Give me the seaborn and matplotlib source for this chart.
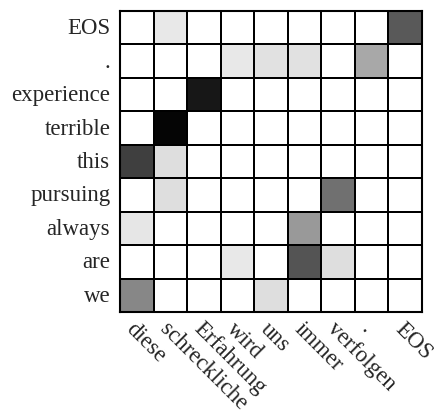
import numpy as np
import pandas as pd
import matplotlib
matplotlib.use("Agg")
import matplotlib.pyplot as plt
import seaborn as sns

# source (German) tokens on x, target (English) tokens on y, top to bottom
src_tokens = ["diese", "schreckliche", "Erfahrung", "wird", "uns",
              "immer", "verfolgen", ".", "EOS"]
tgt_tokens = ["EOS", ".", "experience", "terrible", "this",
              "pursuing", "always", "are", "we"]

# attention weights (0 = white, 1 = black)
row_eos        = [0.00, 0.09, 0.00, 0.00, 0.00, 0.00, 0.00, 0.00, 0.65]
row_dot        = [0.00, 0.00, 0.00, 0.09, 0.12, 0.12, 0.00, 0.34, 0.00]
row_experience = [0.00, 0.00, 0.91, 0.00, 0.00, 0.00, 0.00, 0.00, 0.00]
row_terrible   = [0.00, 0.98, 0.00, 0.00, 0.00, 0.00, 0.00, 0.00, 0.00]
row_this       = [0.75, 0.13, 0.00, 0.00, 0.00, 0.00, 0.00, 0.00, 0.00]
row_pursuing   = [0.00, 0.13, 0.00, 0.00, 0.00, 0.00, 0.56, 0.00, 0.00]
row_always     = [0.10, 0.00, 0.00, 0.00, 0.00, 0.40, 0.00, 0.00, 0.00]
row_are        = [0.00, 0.00, 0.00, 0.09, 0.00, 0.67, 0.13, 0.00, 0.00]
row_we         = [0.47, 0.00, 0.00, 0.00, 0.13, 0.00, 0.00, 0.00, 0.00]

attn = pd.DataFrame(
    [row_eos, row_dot, row_experience, row_terrible, row_this,
     row_pursuing, row_always, row_are, row_we],
    index=tgt_tokens, columns=src_tokens,
)

sns.set_style("white")
plt.rcParams["font.family"] = ["Liberation Serif", "DejaVu Serif"]

fig = plt.figure(figsize=(4.35, 4.14), dpi=100)
ax = fig.add_axes([0.276, 0.244, 0.694, 0.727])

sns.heatmap(
    attn,
    ax=ax,
    cmap="gray_r",
    vmin=0,
    vmax=1,
    cbar=False,
    linewidths=1.3,
    linecolor="black",
    square=False,
)

# outer frame
for spine in ax.spines.values():
    spine.set_visible(True)
    spine.set_color("black")
    spine.set_linewidth(1.5)

ax.tick_params(length=0, labelsize=16.5)
ax.tick_params(axis="y", pad=7)
ax.tick_params(axis="x", pad=4)
ax.set_yticklabels(tgt_tokens, rotation=0)
ax.set_xticklabels(src_tokens, rotation=-45, ha="left", va="top",
                   rotation_mode="anchor")
ax.set_xlabel("")
ax.set_ylabel("")

fig.savefig("out.png", dpi=100)
plt.close(fig)
